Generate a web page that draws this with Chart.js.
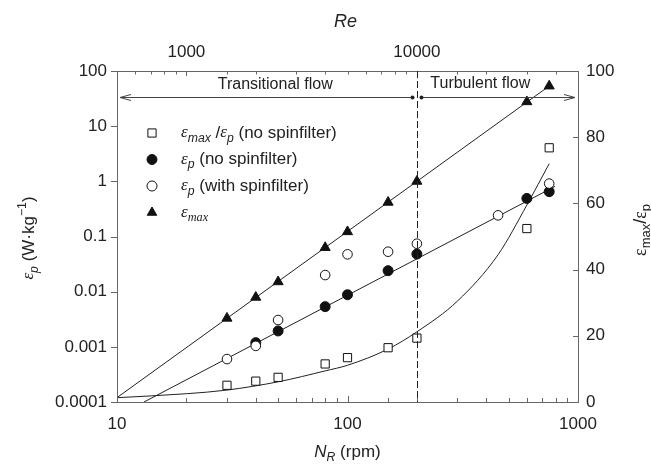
<!DOCTYPE html>
<html>
<head>
<meta charset="utf-8">
<script src="https://cdn.jsdelivr.net/npm/chart.js@4.4.1/dist/chart.umd.min.js"></script>
<style>
  html, body { margin: 0; padding: 0; background: #fff; }
</style>
</head>
<body>
<canvas id="myChart" width="651" height="465"></canvas>
<script>
// impeller speed N_R (rpm) and values
let rpmMax = [30, 40, 50, 80, 100, 150, 200, 600, 750];
let epsMax = [0.0033, 0.0079, 0.0151, 0.063, 0.122, 0.417, 1.0, 27.7, 53.4];

let rpmNoSpin = [40, 50, 80, 100, 150, 200, 600, 750];
let epsNoSpin = [0.00119, 0.00194, 0.00535, 0.0088, 0.024, 0.048, 0.49, 0.65];

let rpmSpin = [30, 40, 50, 80, 100, 150, 200, 450, 750];
let epsSpin = [0.0006, 0.00104, 0.00306, 0.020, 0.0475, 0.053, 0.074, 0.242, 0.91];

let rpmRatio = [30, 40, 50, 80, 100, 150, 200, 600, 750];
let ratioVals = [5.05, 6.3, 7.45, 11.5, 13.4, 16.4, 19.3, 52.4, 76.8];

// fitted lines
let fitMaxN = [10, 750];
let fitMaxY = [0.00012, 53.4];
let fitPN = [13.1, 795];
let fitPY = [0.0001, 0.81];
let fitRatioN = [10, 20, 30, 50, 80, 100, 150, 200, 300, 450, 600, 750];
let fitRatioY = [1.3, 2.5, 3.6, 6.1, 9.4, 11.1, 16.0, 21.2, 30.5, 44.5, 59.5, 72];

// regime boundary
let transitionRpm = 200;
let reFactor = 50; // Re = 50 * N_R

let xTickLabels = [10, 100, 1000];
let reTickLabels = [1000, 10000];

function pts(xs, ys) {
  return xs.map((x, i) => ({ x: x, y: ys[i] }));
}

const SANS = "'Liberation Sans', Arial, sans-serif";
const SERIF = "'Liberation Serif', 'Times New Roman', serif";

// draws text made of parts: {t, i (italic), sub, sup, g (serif greek)}
function richWidth(ctx, parts, size) {
  let w = 0;
  parts.forEach(p => {
    let s = (p.sub || p.sup) ? size * 0.72 : size;
    ctx.font = (p.i ? 'italic ' : '') + s + 'px ' + (p.g ? SERIF : SANS);
    w += ctx.measureText(p.t).width;
  });
  return w;
}
function drawRich(ctx, parts, x, y, size, align) {
  let w = richWidth(ctx, parts, size);
  let cx = align === 'left' ? x : x - w / 2;
  ctx.textAlign = 'left';
  ctx.textBaseline = 'middle';
  parts.forEach(p => {
    let s = (p.sub || p.sup) ? size * 0.72 : size;
    let dy = p.sub ? size * 0.3 : (p.sup ? -size * 0.4 : 0);
    ctx.font = (p.i ? 'italic ' : '') + s + 'px ' + (p.g ? SERIF : SANS);
    ctx.fillText(p.t, cx, y + dy);
    cx += ctx.measureText(p.t).width;
  });
}

let legendItems = [
  { style: 'rect', fill: '#fff', r: 5.8, parts: [{ t: 'ε', i: true, g: true }, { t: 'max', i: true, sub: true }, { t: ' /' }, { t: 'ε', i: true, g: true }, { t: 'p', i: true, sub: true }, { t: ' (no spinfilter)' }] },
  { style: 'circle', fill: '#111', r: 5, parts: [{ t: 'ε', i: true, g: true }, { t: 'p', i: true, sub: true }, { t: ' (no spinfilter)' }] },
  { style: 'circle', fill: '#fff', r: 5, parts: [{ t: 'ε', i: true, g: true }, { t: 'p', i: true, sub: true }, { t: ' (with spinfilter)' }] },
  { style: 'triangle', fill: '#111', r: 5.5, parts: [{ t: 'ε', i: true, g: true }, { t: 'max', i: true, g: true, sub: true }] }
];

const decorations = {
  id: 'decorations',
  afterDraw(chart) {
    const ctx = chart.ctx, a = chart.chartArea, s = chart.scales;
    ctx.save();
    // tick marks
    ctx.strokeStyle = '#666';
    ctx.lineWidth = 1;
    const isMajor = v => Math.abs(Math.log10(v) - Math.round(Math.log10(v))) < 1e-6;
    const seg = (x1, y1, x2, y2) => { ctx.beginPath(); ctx.moveTo(x1, y1); ctx.lineTo(x2, y2); ctx.stroke(); };
    s.x.ticks.forEach(t => {
      let px = Math.round(s.x.getPixelForValue(t.value)) + 0.5;
      seg(px, a.bottom, px, a.bottom - (isMajor(t.value) ? 6 : 4));
    });
    s.xTop.ticks.forEach(t => {
      let px = Math.round(s.xTop.getPixelForValue(t.value)) + 0.5;
      seg(px, a.top, px, a.top + (isMajor(t.value) ? 5 : 3.5));
    });
    s.y.ticks.forEach(t => {
      if (!isMajor(t.value)) return;
      let py = Math.round(s.y.getPixelForValue(t.value)) + 0.5;
      seg(a.left - 6, py, a.left, py);
    });
    s.yR.ticks.forEach(t => {
      let py = Math.round(s.yR.getPixelForValue(t.value)) + 0.5;
      seg(a.right - 5, py, a.right, py);
    });

    // vertical dashed boundary
    let dx = Math.round(s.x.getPixelForValue(transitionRpm)) + 0.5;
    ctx.strokeStyle = '#222';
    ctx.setLineDash([7, 3]);
    seg(dx, a.top, dx, a.bottom);
    ctx.setLineDash([]);

    // flow regime arrows
    let ay = a.top + 26.5;
    let l1 = a.left + 3, r1 = dx - 5, l2 = dx + 4, r2 = a.right - 3;
    ctx.strokeStyle = '#444';
    seg(l1, ay, r1, ay);
    seg(l2, ay, r2, ay);
    seg(l1, ay, l1 + 11, ay - 3);
    seg(l1, ay, l1 + 11, ay + 3);
    seg(r2, ay, r2 - 11, ay - 3);
    seg(r2, ay, r2 - 11, ay + 3);
    ctx.fillStyle = '#222';
    [r1, l2].forEach(px => { ctx.beginPath(); ctx.arc(px, ay, 2, 0, Math.PI * 2); ctx.fill(); });
    ctx.font = '16px ' + SANS;
    ctx.textAlign = 'center';
    ctx.textBaseline = 'middle';
    ctx.fillText('Transitional flow', (l1 + r1) / 2 + 9, a.top + 14);
    ctx.fillText('Turbulent flow', (l2 + r2) / 2 - 18, a.top + 13);

    // legend
    legendItems.forEach((it, i) => {
      let ly = 133 + i * 26.5;
      ctx.fillStyle = it.fill;
      ctx.strokeStyle = '#111';
      ctx.lineWidth = 1;
      Chart.helpers.drawPoint(ctx, { pointStyle: it.style, radius: it.r, borderWidth: 1, rotation: 0 }, 152, ly);
      ctx.fillStyle = '#222';
      drawRich(ctx, it.parts, 181, ly, 17, 'left');
    });

    // axis titles
    drawRich(ctx, [{ t: 'Re', i: true }], (a.left + a.right) / 2 - 2, 22, 18);
    drawRich(ctx, [{ t: 'N', i: true }, { t: 'R', i: true, sub: true }, { t: ' (rpm)' }], (a.left + a.right) / 2, 452, 17);
    ctx.save();
    ctx.translate(29, 238);
    ctx.rotate(-Math.PI / 2);
    drawRich(ctx, [{ t: 'ε', i: true, g: true }, { t: 'p', i: true, sub: true }, { t: ' (W·kg' }, { t: '−1', sup: true }, { t: ')' }], 0, 0, 17);
    ctx.restore();
    ctx.save();
    ctx.translate(641, 230);
    ctx.rotate(-Math.PI / 2);
    drawRich(ctx, [{ t: 'ε', g: true }, { t: 'max', sub: true }, { t: '/' }, { t: 'ε', g: true }, { t: 'p', sub: true }], 0, 0, 18);
    ctx.restore();
    ctx.restore();
  }
};

Chart.defaults.font.family = SANS;
Chart.defaults.font.size = 17;
Chart.defaults.color = '#222';

function decadeLabel(v) {
  let e = Math.log10(v);
  if (Math.abs(e - Math.round(e)) > 1e-6) return '';
  e = Math.round(e);
  return e >= 0 ? String(Math.pow(10, e)) : '0.' + '0'.repeat(-e - 1) + '1';
}

let markerBase = { showLine: false, borderColor: '#111', borderWidth: 1, order: 1 };
let lineBase = { showLine: true, pointRadius: 0, borderColor: '#222', borderWidth: 1, order: 10 };

let barConfig = {
  type: 'scatter',
  data: {
    datasets: [
      Object.assign({ label: 'fit max', data: pts(fitMaxN, fitMaxY), yAxisID: 'y' }, lineBase),
      Object.assign({ label: 'fit p', data: pts(fitPN, fitPY), yAxisID: 'y' }, lineBase),
      Object.assign({ label: 'fit ratio', data: pts(fitRatioN, fitRatioY), yAxisID: 'yR', tension: 0.4, cubicInterpolationMode: 'monotone' }, lineBase),
      Object.assign({ label: 'ratio', data: pts(rpmRatio, ratioVals), yAxisID: 'yR', pointStyle: 'rect', pointRadius: 5.8, backgroundColor: '#fff' }, markerBase),
      Object.assign({ label: 'spin', data: pts(rpmSpin, epsSpin), yAxisID: 'y', pointStyle: 'circle', pointRadius: 4.8, backgroundColor: '#fff' }, markerBase),
      Object.assign({ label: 'nospin', data: pts(rpmNoSpin, epsNoSpin), yAxisID: 'y', pointStyle: 'circle', pointRadius: 5, backgroundColor: '#111' }, markerBase),
      Object.assign({ label: 'max', data: pts(rpmMax, epsMax), yAxisID: 'y', pointStyle: 'triangle', pointRadius: 5.8, backgroundColor: '#111' }, markerBase)
    ]
  },
  options: {
    responsive: false,
    animation: false,
    layout: { padding: 0 },
    plugins: { legend: { display: false }, tooltip: { enabled: false } },
    scales: {
      x: {
        type: 'logarithmic', position: 'bottom', min: 10, max: 1000,
        grid: { display: false, drawTicks: false },
        border: { display: true, color: '#666' },
        ticks: { autoSkip: false, maxRotation: 0, padding: 12,
          callback: v => xTickLabels.includes(v) ? String(v) : '' },
        afterFit: s => { s.height = 63; }
      },
      xTop: {
        type: 'logarithmic', position: 'top', min: 10 * reFactor, max: 1000 * reFactor,
        grid: { display: false, drawTicks: false },
        border: { display: true, color: '#666' },
        ticks: { autoSkip: false, maxRotation: 0, padding: 8,
          callback: v => reTickLabels.includes(v) ? String(v) : '' },
        afterFit: s => { s.height = 71; }
      },
      y: {
        type: 'logarithmic', position: 'left', min: 0.0001, max: 100,
        grid: { display: false, drawTicks: false },
        border: { display: true, color: '#666' },
        ticks: { autoSkip: false, padding: 10, callback: v => decadeLabel(v) },
        afterFit: s => { s.width = 117; }
      },
      yR: {
        type: 'linear', position: 'right', min: 0, max: 100,
        grid: { display: false, drawTicks: false },
        border: { display: true, color: '#666' },
        ticks: { autoSkip: false, stepSize: 20, padding: 8 },
        afterFit: s => { s.width = 73; }
      }
    }
  },
  plugins: [decorations]
};

let chart = document.getElementById('myChart');
let barChart = new Chart(chart, barConfig);
</script>
</body>
</html>
